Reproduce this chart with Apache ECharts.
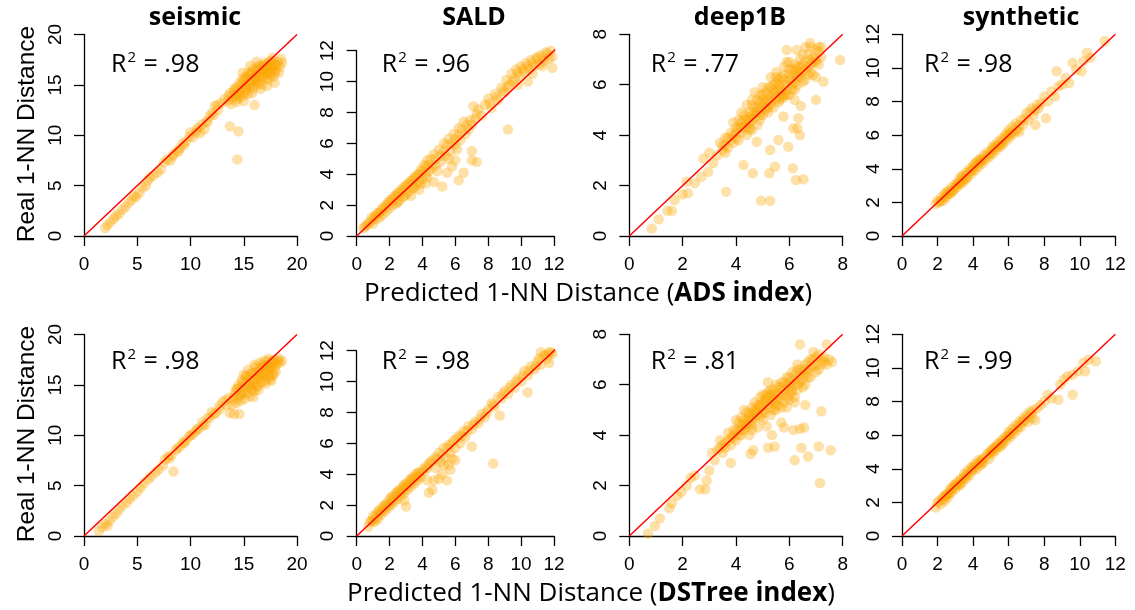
<!DOCTYPE html>
<html><head><meta charset="utf-8">
<script src="https://cdn.jsdelivr.net/npm/echarts@6/dist/echarts.min.js"></script>
<style>html,body{margin:0;padding:0;background:#fff}#c{width:1135px;height:610px}</style>
</head><body><div id="c"></div>
<script>
// ---------- data ----------
const datasets = ['seismic', 'SALD', 'deep1B', 'synthetic'];
const axisMax = [20, 12, 8, 12];
const axisStep = [5, 2, 2, 2];
const lineEnd = [20, 13.06, 8, 12];
const r2ADS = ['.98', '.96', '.77', '.98'];
const r2DSTree = ['.98', '.98', '.81', '.99'];
const indexNames = ['ADS index', 'DSTree index'];
const yTitle = 'Real 1-NN Distance';
const xTitlePrefix = 'Predicted 1-NN Distance (';

const seismicADS = [[2.0,0.8],[2.2,1.1],[2.5,1.4],[2.8,1.7],[3.0,2.0],[3.3,2.2],[3.6,2.6],[3.9,2.9],[4.2,3.3],[4.5,3.6],[4.7,4.0],[4.9,3.9],[5.2,4.3],[5.5,4.8],[5.8,5.0],[6.0,5.5],[6.2,5.8],[6.5,6.0],[6.9,6.3],[7.2,6.6],[7.5,7.3],[7.8,7.6],[8.1,7.5],[8.4,8.1],[8.7,8.4],[9.0,8.7],[9.3,9.2],[9.6,9.4],[9.9,9.9],[10.2,9.8],[10.5,10.3],[10.8,10.8],[11.1,11.1],[11.3,10.6],[11.6,11.3],[12.0,12.2],[12.3,12.9],[12.6,12.5],[12.9,13.2],[13.2,13.6],
[13.5,13.4],[13.7,14.2],[13.9,13.6],[14.1,14.5],[14.2,13.9],[14.4,14.8],[14.5,14.2],[14.6,15.2],[14.7,13.8],[14.8,14.6],[14.9,15.6],[15.0,14.0],[15.1,15.0],[15.2,15.8],[15.3,14.5],[15.4,16.2],[15.5,15.3],[15.6,14.8],[15.7,16.0],[15.8,15.5],[15.9,16.6],[16.0,14.9],[16.1,15.9],[16.2,16.4],[16.3,15.3],[16.4,16.9],[16.5,15.8],[16.6,16.2],[16.7,15.0],[16.8,16.7],[16.9,17.2],[17.0,15.9],[17.1,16.4],[17.2,17.0],[17.3,15.5],[17.4,16.8],[17.5,16.2],[17.6,17.4],[17.7,16.6],[17.8,15.8],[17.9,17.1],[18.0,16.4],[18.2,17.3],[18.4,16.8],[18.6,17.2],[16.2,17.3],[15.6,16.9],[14.9,16.2],[15.0,13.4],[15.8,14.2],[16.6,14.6],[17.2,14.9],[14.3,13.3],[16.0,13.0],[17.9,15.2],
[13.6,13.9],[13.8,13.1],[14.0,14.1],[14.2,14.7],[14.4,13.6],[14.6,14.4],[14.8,15.1],[15.0,15.4],[15.1,14.3],[15.3,15.6],[15.5,16.0],[15.6,15.1],[15.8,16.3],[15.9,14.6],[16.1,15.4],[16.2,16.0],[16.3,16.7],[16.5,16.5],[16.6,15.5],[16.8,16.0],[16.9,16.4],[17.0,17.0],[17.1,15.6],[17.3,16.6],[17.4,17.3],[17.5,15.9],[17.6,16.7],[17.8,17.0],[17.9,16.2],[18.1,16.9],[18.3,16.2],[18.5,17.6],[15.2,14.8],[16.0,15.6],[16.7,16.9],[17.2,16.2],[14.5,14.0],[15.4,14.1],[16.4,15.1],[17.7,17.7],[12.2,12.0],[12.5,13.0],[11.8,11.9],[11.5,11.4],[10.6,10.6],[10.9,10.2],[10.0,10.3],[9.4,9.0],[8.9,8.4],[8.3,7.9],
[13.7,10.9],[14.5,10.4],[14.4,7.6]];

const saldADS = [[0.4,0.5],[0.6,0.7],[0.8,0.9],[0.9,1.2],[1.0,0.8],[1.1,1.3],[1.2,1.1],[1.3,1.5],[1.4,1.2],[1.5,1.7],[1.6,1.4],[1.7,1.9],[1.8,1.6],[1.9,2.2],[2.0,1.8],[2.1,2.4],[2.2,2.0],[2.3,2.6],[2.4,2.1],[2.5,2.8],[2.6,2.3],[2.7,3.0],[2.8,2.5],[2.9,3.2],[3.0,2.7],[3.1,3.4],[3.2,2.9],[3.3,3.6],[3.4,3.1],[3.5,3.8],[3.6,3.3],[3.7,4.0],[3.8,3.5],[3.9,4.3],[4.0,3.7],[4.1,4.6],[4.2,4.0],[4.3,4.9],[4.4,4.2],[4.5,5.0],[3.3,2.6],[3.8,3.0],[4.2,3.4],
[4.7,5.3],[4.8,4.6],[5.0,5.6],[5.1,4.8],[5.3,6.0],[5.4,5.2],[5.6,6.3],[5.7,5.5],[5.9,6.6],[6.0,5.9],[6.2,7.0],[6.3,6.2],[6.5,7.4],[6.6,6.6],[6.8,6.9],[7.0,7.2],[7.2,7.6],[7.1,8.4],[7.6,7.8],[7.4,8.2],
[4.7,3.5],[5.2,3.2],[6.2,3.6],[6.5,4.1],[5.8,4.5],[7.0,4.9],[7.3,4.8],[7.0,5.5],[5.5,4.1],[6.0,4.9],[4.9,4.2],[9.2,6.9],
[7.8,8.5],[8.0,8.9],[8.2,8.3],[8.4,9.2],[8.6,8.8],[8.8,9.6],[9.0,9.3],[9.1,10.1],[9.3,9.8],[9.4,10.5],[9.6,10.2],[9.7,10.8],[9.9,10.4],[10.0,11.0],[10.2,10.6],[10.3,11.2],[10.5,10.8],[10.6,11.4],[10.8,11.0],[10.9,11.5],[11.1,11.1],[11.2,11.7],[11.4,11.3],[11.5,11.9],[11.7,11.5],[11.8,12.0],[11.9,11.6],[11.9,10.9],[10.4,10.0],[9.8,9.8],
[0.5,0.6],[0.7,0.8],[1.0,1.1],[1.2,1.4],[1.4,1.5],[1.6,1.8],[1.8,2.0],[2.0,2.2],[2.2,2.4],[2.4,2.6],[2.6,2.8],[2.8,3.0],[3.0,3.2],[3.2,3.4],[3.4,3.6],[3.6,3.8],[3.8,4.0],[4.0,4.2],[4.2,4.5],[4.4,4.6],[2.5,2.2],[2.9,2.6],[3.5,3.1],[3.9,3.4],[4.3,3.8],[4.6,4.4],[4.8,5.0],[5.1,5.2],[5.3,5.5],[5.5,5.9],[5.8,6.0],[6.0,6.3],[6.2,6.5],[6.4,6.9],[6.1,5.6],[5.6,5.0],[6.7,7.2],[6.9,7.5],[7.3,7.9],[8.1,8.6],[8.5,9.0],[8.9,9.4],[9.2,9.7],[9.5,10.0],[9.8,10.6],[10.1,10.8],[10.4,11.0],[10.7,11.2],[11.0,11.6],[11.3,11.5],[11.6,11.8],[11.3,11.0],[10.7,10.5]];

const deepADS = [[0.84,0.3],[1.1,0.66],[1.43,1.0],[1.6,1.0],[1.7,1.43],[2.0,1.65],[2.2,1.7],[2.15,2.15],[2.46,2.1],[2.7,2.35],[2.96,2.55],[2.78,3.07],[3.15,2.9],[3.0,3.3],
[3.3,3.2],[3.4,3.7],[3.5,3.4],[3.6,3.9],[3.7,3.5],[3.8,4.1],[3.9,3.7],[4.0,4.3],[4.0,3.9],[4.1,4.6],[4.2,4.1],[4.3,4.8],[4.3,4.3],[4.4,4.0],[4.5,4.9],[4.5,4.5],[4.6,5.2],[4.7,4.7],[4.8,5.4],[4.8,4.4],[4.9,5.0],[5.0,5.6],[5.0,4.8],[5.1,5.3],[5.2,5.9],[5.2,4.9],[5.3,5.5],[5.4,6.0],[5.4,5.1],[5.5,5.7],[5.6,6.2],[5.6,5.3],[5.7,5.8],[5.8,6.4],[5.8,5.5],[5.9,6.0],[6.0,6.6],[6.0,5.6],[6.1,6.2],[6.2,6.8],[6.2,5.8],[6.3,6.4],[6.4,7.0],[6.5,6.1],[6.6,6.6],[6.7,7.2],[6.8,6.5],[6.9,6.9],[7.0,7.4],[7.1,6.8],[7.2,7.1],[7.0,6.3],[6.6,7.5],[5.3,6.3],[4.7,5.7],[5.9,6.9],[4.2,4.9],[3.6,3.3],[4.6,4.2],[5.5,6.5],[5.9,7.38],[6.28,7.38],[6.78,7.65],
[3.5,3.6],[3.7,3.9],[3.9,4.0],[4.1,4.3],[4.2,4.5],[4.4,4.6],[4.5,4.2],[4.6,4.8],[4.7,5.1],[4.8,4.9],[4.9,5.3],[5.0,5.2],[5.1,5.0],[5.1,5.7],[5.2,5.4],[5.3,5.2],[5.3,5.9],[5.4,5.6],[5.5,5.4],[5.5,6.1],[5.6,5.8],[5.7,5.5],[5.7,6.3],[5.8,6.0],[5.9,5.6],[6.0,6.2],[6.0,6.9],[6.1,5.8],[6.2,6.4],[6.3,6.7],[6.3,6.0],[6.4,6.3],[6.5,6.8],[6.6,6.2],[6.7,6.7],[6.8,7.0],[6.9,6.4],[7.0,6.9],[7.1,7.3],[6.5,7.2],[5.0,5.9],[4.6,5.4],[4.4,5.2],[3.9,4.5],[4.1,3.8],[5.8,6.7],[6.2,6.1],[6.8,7.5],[7.2,7.5],[4.9,4.6],
[3.6,3.6],[3.8,3.8],[4.0,4.1],[4.2,4.3],[4.4,4.4],[4.5,4.7],[4.6,4.6],[4.7,4.9],[4.8,5.1],[4.9,4.8],[5.0,5.4],[5.1,5.1],[5.2,5.6],[5.3,5.3],[5.4,5.8],[5.5,5.5],[5.6,6.0],[5.7,5.7],[5.8,6.2],[5.9,5.8],[6.0,6.4],[6.1,6.0],[6.2,6.6],[6.3,6.3],[6.4,6.7],[6.5,6.5],[6.6,6.9],[6.7,6.4],[6.8,6.8],[6.9,7.1],[7.0,7.0],[7.1,7.5],[4.3,4.6],[4.9,5.6],[5.5,6.3],[6.1,6.6],[5.2,5.1],[5.8,5.6],[4.5,4.3],[6.4,6.5],
[3.63,1.76],[4.28,2.82],[4.63,2.49],[4.94,1.4],[5.28,1.4],[5.25,2.49],[5.46,2.75],[5.28,3.41],[5.59,3.81],[5.96,3.54],[6.13,2.69],[6.25,2.22],[6.53,2.25],[6.3,4.27],[6.34,4.67],[6.15,4.27],[6.4,4.0],[6.2,5.4],[6.43,5.16],[5.78,4.74],[5.65,5.4],[7.9,6.98],[7.28,6.12],[7.0,5.4],[4.78,3.74]];

const synthADS = [[1.9,1.9],[2.1,2.0],[2.2,2.3],[2.3,2.1],[2.4,2.5],[2.5,2.3],[2.6,2.7],[2.7,2.5],[2.8,2.9],[2.9,2.7],[3.0,3.1],[3.1,2.9],[3.2,3.3],[3.3,3.1],[3.4,3.6],[3.5,3.3],[3.6,3.8],[3.7,3.5],[3.8,4.0],[3.9,3.7],[4.0,4.2],[4.1,3.9],[4.2,4.4],[4.3,4.1],[4.4,4.6],[4.5,4.3],[4.6,4.8],[4.7,4.5],[4.8,5.0],[4.9,4.7],[5.0,5.1],[5.1,4.9],[5.2,5.4],[5.3,5.1],[5.4,5.6],[5.5,5.3],[5.6,5.8],[5.7,5.5],[5.8,6.0],[5.9,5.7],[6.0,6.3],[6.1,5.9],[6.2,6.5],[6.3,6.1],[6.4,6.7],[6.5,6.3],[6.7,6.9],[6.8,6.6],[7.0,7.3],[7.1,6.9],[7.3,7.6],[7.4,7.2],[7.6,7.8],[7.5,6.6],[7.8,7.9],[8.0,8.3],[8.1,7.0],[8.2,8.0],[8.4,8.6],[8.6,8.3],[8.7,9.8],[8.8,8.9],[9.0,9.0],[9.2,9.4],[9.4,9.1],[9.6,10.3],[9.8,9.9],[10.1,9.8],[10.2,10.4],[10.4,10.9],[10.6,10.6],[11.4,11.6],[5.6,5.4],[4.1,4.3],[3.4,3.2],[6.6,6.2],[2.8,2.6],[3.6,3.4],
[2.0,2.1],[2.2,2.1],[2.4,2.3],[2.6,2.5],[2.8,2.7],[3.0,2.9],[3.2,3.1],[3.4,3.4],[3.6,3.6],[3.8,3.8],[4.0,4.0],[4.2,4.2],[4.4,4.4],[4.6,4.6],[4.8,4.8],[5.0,4.9],[5.2,5.2],[5.4,5.4],[5.6,5.6],[5.8,5.8],[6.0,6.0],[6.2,6.2],[6.4,6.4],[6.6,6.6],[6.9,7.0],[7.2,7.4],[7.5,7.5],[7.7,7.6],[2.5,2.6],[3.1,3.1],[3.9,3.9],[4.5,4.5],[5.3,5.3],[6.1,6.1],[3.3,3.5],[4.3,4.5],[5.1,5.3],[5.9,6.1]];

const seismicDSTree = [[1.4,0.5],[1.7,0.9],[2.0,1.2],[2.2,1.0],[2.4,1.5],[2.7,1.9],[3.0,2.2],[3.3,2.6],[3.6,3.0],[4.0,3.3],[4.3,3.7],[4.6,4.0],[5.0,4.4],[5.3,4.8],[5.6,5.2],[6.0,5.6],[6.3,5.9],[6.7,6.3],[7.0,6.6],[7.4,7.0],[7.6,7.6],[7.9,7.9],[8.4,6.4],[8.2,8.0],[8.6,8.5],[9.0,8.9],[9.3,9.3],[9.6,9.5],[9.9,9.9],[10.2,10.1],[10.5,10.4],[10.8,10.7],[11.1,11.3],[11.4,11.0],[11.6,11.7],[12.0,12.3],[12.4,12.2],[12.7,12.9],[13.0,13.3],[13.3,13.5],[13.7,12.2],[14.1,12.1],[14.6,12.1],[13.9,13.0],
[14.0,13.6],[14.2,14.3],[14.3,13.2],[14.5,15.0],[14.6,14.0],[14.7,13.4],[14.8,15.5],[14.9,14.5],[15.0,16.0],[15.1,13.6],[15.2,15.1],[15.3,14.2],[15.4,16.5],[15.5,15.6],[15.6,13.9],[15.7,14.8],[15.8,16.2],[15.9,15.2],[16.0,14.4],[16.1,16.8],[16.2,15.7],[16.3,14.9],[16.4,16.3],[16.5,17.2],[16.6,15.3],[16.7,16.7],[16.8,15.9],[16.9,17.4],[17.0,16.3],[17.1,15.1],[17.2,16.9],[17.3,17.6],[17.4,15.8],[17.5,16.5],[17.6,17.2],[17.7,16.0],[17.8,17.5],[17.9,16.6],[18.1,17.1],[18.3,17.6],[18.6,17.4],[17.0,15.4],[16.4,14.5],[15.3,15.9],[14.4,14.6],[16.0,17.0],[17.6,15.4],[15.9,13.8],
[14.1,13.9],[14.3,14.6],[14.5,13.7],[14.7,14.8],[14.9,15.3],[15.0,14.2],[15.2,15.8],[15.4,14.7],[15.5,15.2],[15.7,16.1],[15.8,14.5],[16.0,15.5],[16.1,16.3],[16.2,14.8],[16.3,15.6],[16.5,16.6],[16.6,16.0],[16.7,15.2],[16.8,17.0],[16.9,16.2],[17.0,16.9],[17.1,16.0],[17.2,17.3],[17.3,16.5],[17.4,17.0],[17.5,15.6],[17.6,16.8],[17.7,17.4],[17.9,17.0],[18.0,16.3],[18.2,17.4],[18.4,17.2],[15.6,15.0],[16.4,15.9],[17.8,16.0],[14.8,14.1],[13.6,13.7],[13.4,13.0],[12.8,12.6],[12.2,12.1],[11.8,11.7],[11.2,11.0],[10.6,10.6],[10.0,10.0],[9.4,9.2],[8.8,8.7],[8.0,7.7]];

const saldDSTree = [[0.7,0.6],[0.9,1.0],[1.0,1.3],[1.1,0.9],[1.2,1.4],[1.3,1.1],[1.4,1.7],[1.5,1.4],[1.6,1.9],[1.7,1.6],[1.8,2.1],[1.9,1.8],[2.0,2.4],[2.1,2.0],[2.2,2.6],[2.3,2.2],[2.4,2.8],[2.5,2.4],[2.6,3.0],[2.7,2.6],[2.8,3.2],[2.9,2.8],[3.0,3.4],[3.1,3.0],[3.2,3.6],[3.3,3.2],[3.4,3.8],[3.5,3.4],[3.6,4.0],[3.7,3.6],[3.8,4.1],[3.9,3.8],[4.0,4.3],[4.2,4.5],[4.4,4.7],[4.6,4.9],[3.0,1.9],[2.9,2.3],
[4.4,2.8],[4.6,3.0],[5.0,3.7],[5.5,3.6],[4.7,3.6],[5.7,4.3],[4.3,3.6],[5.2,4.0],[7.0,5.8],[8.3,4.7],[6.0,4.9],[5.8,5.0],
[4.8,5.1],[5.0,5.4],[5.1,4.8],[5.3,5.7],[5.4,5.1],[5.6,5.9],[5.7,5.4],[5.9,6.2],[6.0,5.7],[6.2,6.5],[6.3,6.0],[6.5,6.8],[6.6,6.4],[6.8,7.1],[7.0,6.9],[7.2,7.4],[7.4,7.3],[7.6,7.9],[7.8,7.7],[8.0,8.2],[8.7,7.8],[8.2,8.6],[8.4,8.4],[8.6,9.0],[8.8,8.9],[9.0,9.4],[9.2,9.2],[9.4,9.8],[9.6,9.6],[9.8,10.2],[10.0,10.0],[10.2,10.7],[10.4,10.4],[10.4,9.3],[10.6,11.0],[10.8,10.8],[11.0,11.3],[11.2,11.1],[11.4,11.7],[11.6,11.5],[11.8,11.9],[11.2,11.9],[11.7,11.2],
[0.8,0.9],[1.0,1.0],[1.2,1.2],[1.4,1.5],[1.6,1.7],[1.8,1.9],[2.0,2.1],[2.2,2.3],[2.4,2.6],[2.6,2.8],[2.8,3.0],[3.0,3.2],[3.2,3.4],[3.4,3.6],[3.6,3.8],[3.8,3.9],[1.3,1.6],[1.7,2.0],[2.1,2.5],[2.5,2.9],[2.9,3.3],[3.3,3.7],[3.7,4.1],[4.1,4.2],[4.3,4.4],[4.5,4.8],[4.9,5.0],[5.2,5.3],[5.5,5.7],[5.8,6.0],[6.1,6.3],[6.4,6.5],[6.7,6.8],[7.1,7.2],[7.5,7.6],[7.9,8.0],[8.3,8.5],[8.9,9.2],[9.3,9.6],[9.7,10.0],[10.1,10.4],[10.5,10.7],[10.9,11.0],[11.1,11.5],[11.5,11.7],[11.7,11.9],[11.9,11.8],[4.8,4.4],[5.3,4.6],[5.6,4.6]];

const deepDSTree = [[0.7,0.1],[0.96,0.4],[1.15,0.7],[1.5,1.1],[1.6,1.3],[1.8,1.6],[1.95,1.75],[2.15,2.0],[2.3,2.3],[2.45,2.4],[2.65,1.85],[2.85,1.85],[2.9,2.2],[3.0,2.6],[3.1,3.3],[3.2,3.0],[3.8,2.9],
[3.3,3.4],[3.4,3.8],[3.5,3.3],[3.6,3.7],[3.7,4.1],[3.8,3.6],[3.9,4.2],[4.0,3.8],[4.1,4.5],[4.1,4.0],[4.2,4.7],[4.3,4.2],[4.4,4.9],[4.4,4.4],[4.5,4.0],[4.6,5.1],[4.6,4.6],[4.7,5.3],[4.8,4.8],[4.8,4.3],[4.9,5.5],[5.0,5.0],[5.0,4.6],[5.1,5.6],[5.2,5.2],[5.3,4.8],[5.3,5.8],[5.4,5.4],[5.5,6.0],[5.5,5.0],[5.6,5.6],[5.7,6.1],[5.8,5.3],[5.8,5.8],[5.9,6.3],[6.0,5.6],[6.1,6.0],[6.1,6.5],[6.2,5.5],[6.3,6.2],[6.4,6.6],[6.5,5.9],[6.6,6.4],[6.7,6.9],[6.8,6.3],[6.9,6.7],[7.0,7.1],[7.1,6.6],[7.3,6.9],[7.5,7.0],[7.6,6.9],[7.4,7.6],[6.4,7.6],[6.9,7.3],[5.2,6.1],[4.3,5.0],[5.9,5.1],
[3.4,3.5],[3.6,3.5],[3.8,3.9],[3.9,3.9],[4.0,4.2],[4.2,4.0],[4.2,4.4],[4.3,4.6],[4.4,4.3],[4.5,4.7],[4.5,4.9],[4.6,4.4],[4.7,4.9],[4.7,5.0],[4.8,5.2],[4.9,4.7],[5.0,5.3],[5.1,4.9],[5.1,5.4],[5.2,5.7],[5.3,5.1],[5.4,5.6],[5.4,5.0],[5.5,5.4],[5.6,5.9],[5.6,5.2],[5.7,5.7],[5.8,6.1],[5.9,5.5],[6.0,5.9],[6.0,6.3],[6.1,5.7],[6.2,6.2],[6.3,6.6],[6.3,5.8],[6.4,6.1],[6.5,6.5],[6.6,6.0],[6.7,6.6],[6.8,7.0],[7.0,6.8],[7.2,7.0],[7.4,6.8],[7.1,7.2],[5.3,5.6],[4.9,5.1],[4.0,4.6],[6.6,6.8],[5.7,5.1],[6.2,5.3],
[3.5,3.6],[3.7,3.8],[3.9,4.0],[4.1,4.2],[4.3,4.4],[4.4,4.6],[4.5,4.5],[4.6,4.8],[4.7,4.7],[4.8,5.0],[4.9,5.2],[5.0,4.9],[5.1,5.3],[5.2,5.5],[5.3,5.3],[5.4,5.8],[5.5,5.6],[5.6,5.4],[5.7,5.9],[5.8,5.6],[5.9,6.0],[6.0,6.1],[6.1,5.8],[6.2,6.4],[6.3,6.0],[6.4,6.4],[6.5,6.2],[6.6,6.6],[6.7,6.3],[6.8,6.7],[6.9,7.0],[7.0,6.5],[7.2,6.8],[7.3,7.1],[4.2,4.2],[4.6,4.2],[5.0,5.6],[5.5,5.2],[6.0,5.4],[6.3,6.8],
[4.55,3.25],[4.65,3.4],[5.2,3.5],[5.45,3.55],[5.35,4.0],[5.8,4.3],[6.15,4.2],[6.4,4.25],[6.55,4.3],[6.45,3.5],[6.2,3.0],[6.7,3.15],[7.1,3.55],[7.55,3.4],[7.15,2.1],[7.2,4.95],[6.6,5.2],[5.7,4.5],[5.15,4.35]];

const synthDSTree = [[1.9,1.7],[2.0,2.0],[2.2,1.9],[2.3,2.3],[2.4,2.1],[2.5,2.5],[2.6,2.3],[2.7,2.8],[2.8,2.6],[2.9,3.0],[3.0,2.8],[3.1,3.2],[3.2,3.0],[3.3,3.4],[3.4,3.2],[3.5,3.7],[3.6,3.4],[3.7,3.9],[3.8,3.6],[3.9,4.1],[4.0,3.9],[4.1,4.3],[4.2,4.0],[4.3,4.5],[4.4,4.2],[4.5,4.6],[4.6,4.4],[4.8,4.9],[4.9,4.6],[5.0,5.1],[5.1,4.9],[5.2,5.3],[5.3,5.1],[5.4,5.5],[5.5,5.3],[5.6,5.7],[5.7,5.5],[5.8,5.9],[5.9,5.7],[6.0,6.2],[6.1,5.9],[6.2,6.4],[6.3,6.1],[6.4,6.6],[6.5,6.3],[6.6,6.8],[6.7,6.5],[6.8,7.0],[7.0,7.2],[7.1,6.8],[7.2,7.4],[7.3,7.0],[7.5,6.9],[7.6,7.6],[7.8,7.8],[8.0,8.0],[8.2,8.4],[8.4,8.2],[8.8,8.1],[8.9,9.0],[9.1,9.3],[9.3,9.5],[9.6,8.4],[9.6,9.6],[9.9,9.8],[10.2,10.3],[10.3,9.8],[10.5,10.5],[10.9,10.4],[3.3,3.1],[4.5,4.3],[5.6,5.4],[2.6,2.5],
[2.1,2.1],[2.3,2.2],[2.5,2.4],[2.7,2.6],[2.9,2.9],[3.1,3.0],[3.3,3.3],[3.5,3.5],[3.7,3.7],[3.9,3.9],[4.1,4.1],[4.3,4.3],[4.5,4.5],[4.7,4.7],[4.9,4.9],[5.1,5.1],[5.3,5.3],[5.5,5.5],[5.7,5.7],[5.9,5.9],[6.1,6.1],[6.3,6.3],[6.5,6.5],[6.7,6.7],[6.9,6.9],[7.1,7.1],[7.3,7.3],[7.4,7.5],[2.4,2.4],[2.8,2.8],[3.6,3.6],[4.4,4.4],[5.2,5.2],[6.0,6.0],[6.8,6.8],[3.0,3.1],[4.0,4.1],[5.0,5.0]];

const panelData = [
  [seismicADS, saldADS, deepADS, synthADS],
  [seismicDSTree, saldDSTree, deepDSTree, synthDSTree]
];
const r2Rows = [r2ADS, r2DSTree];

// ---------- layout ----------
const colLeft = [84, 356.7, 629.3, 902];
const colW = [213, 197.3, 213.4, 213.3];
const colTop = [34.5, 50.7, 34.3, 34.3];
const colH = [201.5, 185.3, 201.7, 201.7];
const rowOff = [0, 300];
const r2Left = [111, 381.7, 650.7, 924];
const r2Y = [65, 362];
const titleX = [195, 474, 740, 1021];

const tickFont = 'Liberation Sans';
const humanFont = 'Open Sans';
const axisLineStyle = { color: '#000', width: 1.3 };

const grid = [], xAxis = [], yAxis = [], series = [], graphic = [];
let k = 0;
for (let r = 0; r < 2; r++) {
  for (let c = 0; c < 4; c++) {
    grid.push({ left: colLeft[c], top: colTop[c] + rowOff[r], width: colW[c], height: colH[c], containLabel: false });
    const common = {
      type: 'value', gridIndex: k, min: 0, max: axisMax[c], interval: axisStep[c],
      splitLine: { show: false },
      axisLine: { show: true, onZero: false, lineStyle: axisLineStyle },
      axisTick: { show: true, length: 10, lineStyle: axisLineStyle },
    };
    xAxis.push(Object.assign({}, common, {
      axisLabel: { margin: 19, fontSize: 19, fontFamily: tickFont, color: '#000' }
    }));
    yAxis.push(Object.assign({}, common, {
      axisLabel: { margin: 19, fontSize: 19, fontFamily: tickFont, color: '#000', rotate: 90 }
    }));
    series.push({
      type: 'scatter', xAxisIndex: k, yAxisIndex: k, data: panelData[r][c],
      symbol: 'circle', symbolSize: 10.5, clip: false, silent: true, z: 2,
      itemStyle: { color: 'rgba(253,165,0,0.42)', borderWidth: 0 }
    });
    series.push({
      type: 'line', xAxisIndex: k, yAxisIndex: k,
      data: [[0, 0], [lineEnd[c], lineEnd[c]]],
      symbol: 'none', clip: false, silent: true, z: 3,
      lineStyle: { color: '#ff0000', width: 1.5 }
    });
    graphic.push({
      type: 'text', x: r2Left[c], y: r2Y[r],
      style: {
        text: '{r|R}{s|2}{r| = ' + r2Rows[r][c] + '}',
        textAlign: 'left', textVerticalAlign: 'middle',
        rich: {
          r: { fontFamily: humanFont, fontSize: 25, fill: '#000', color: '#000', lineHeight: 30 },
          s: { fontFamily: humanFont, fontSize: 15, fill: '#000', color: '#000', lineHeight: 30, verticalAlign: 'top', padding: [0, 1, 0, 1] }
        }
      }
    });
    k++;
  }
}
for (let c = 0; c < 4; c++) {
  graphic.push({
    type: 'text', x: titleX[c], y: 18,
    style: { text: datasets[c], font: 'bold 25px "Open Sans"', fill: '#000', textAlign: 'center', textVerticalAlign: 'middle' }
  });
}
for (let r = 0; r < 2; r++) {
  graphic.push({
    type: 'text', x: 27, y: 134 + rowOff[r], rotation: Math.PI / 2,
    style: { text: yTitle, font: '24.5px "Liberation Sans"', fill: '#000', textAlign: 'center', textVerticalAlign: 'middle' }
  });
  graphic.push({
    type: 'text', x: r === 0 ? 588 : 591, y: 294 + rowOff[r],
    style: {
      text: '{a|' + xTitlePrefix + '}{b|' + indexNames[r] + '}{a|)}',
      textAlign: 'center', textVerticalAlign: 'middle',
      rich: {
        a: { fontFamily: humanFont, fontSize: 26, fill: '#000', color: '#000' },
        b: { fontFamily: humanFont, fontSize: 26, fontWeight: 'bold', fill: '#000', color: '#000' }
      }
    }
  });
}

const chart = echarts.init(document.getElementById('c'), null, { renderer: 'canvas' });
chart.setOption({ animation: false, backgroundColor: '#fff', grid, xAxis, yAxis, series, graphic });
</script>
</body></html>
